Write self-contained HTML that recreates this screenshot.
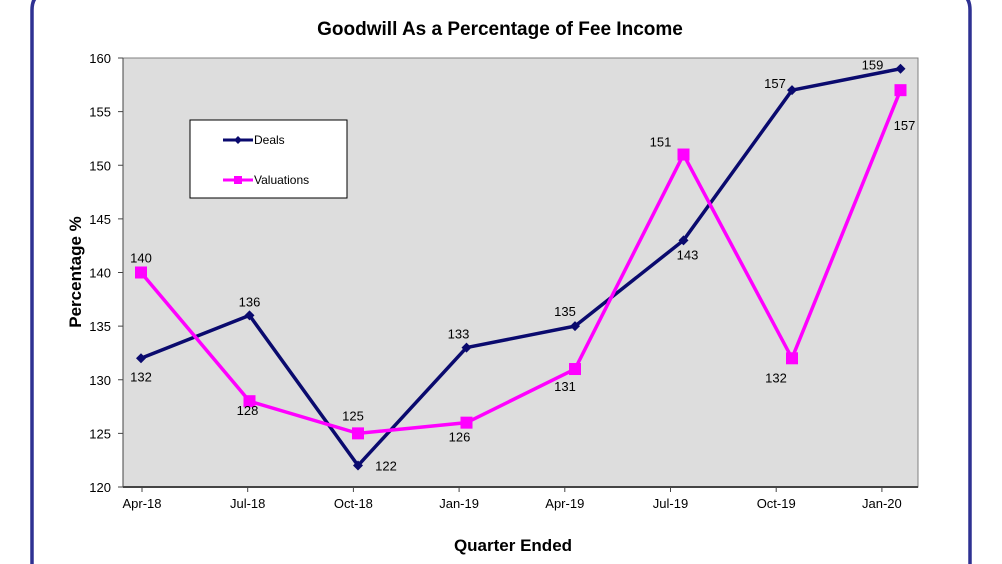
<!DOCTYPE html>
<html><head><meta charset="utf-8"><style>
html,body{margin:0;width:1002px;height:564px;background:#fff;overflow:hidden;font-family:"Liberation Sans",Arial,sans-serif}
</style></head><body>
<svg width="1002" height="564" style="position:absolute;left:0;top:0;overflow:hidden">
<path d="M32 564 L32 10 Q32 -8 50 -8 L952 -8 Q970 -8 970 10 L970 564" fill="none" stroke="#2e3192" stroke-width="3.5"/>
<text x="500" y="35" text-anchor="middle" font-size="19" font-weight="bold">Goodwill As a Percentage of Fee Income</text>
<rect x="123" y="58" width="795" height="429" fill="#dddddd" stroke="#808080" stroke-width="1"/>
<line x1="123" y1="487" x2="918" y2="487" stroke="#444" stroke-width="2"/>
<line x1="123" y1="58" x2="123" y2="487" stroke="#444" stroke-width="1"/>
<g id="yaxis"></g><g id="xaxis"></g><g id="series"></g>
<text x="81" y="272" transform="rotate(-90 81 272)" text-anchor="middle" font-size="17" font-weight="bold">Percentage %</text>
<text x="513" y="551" text-anchor="middle" font-size="17" font-weight="bold">Quarter Ended</text>
<g>
<rect x="190" y="120" width="157" height="78" fill="#fff" stroke="#000" stroke-width="1"/>
<g><line x1="223" y1="140" x2="253" y2="140" stroke="#0a0a6e" stroke-width="3"/><path d="M238 136 L242 140 L238 144 L234 140Z" fill="#0a0a6e"/><text x="254" y="144" font-size="12">Deals</text></g>
<g><line x1="223" y1="180" x2="253" y2="180" stroke="#ff00ff" stroke-width="3"/><rect x="234" y="176" width="8" height="8" fill="#ff00ff"/><text x="254" y="184" font-size="12">Valuations</text></g>
</g>
</svg>
<script>
const categories=["Apr-18","Jul-18","Oct-18","Jan-19","Apr-19","Jul-19","Oct-19","Jan-20"];
const deals=[132,136,122,133,135,143,157,159];
const valuations=[140,128,125,126,131,151,132,157];
const yTicks=[120,125,130,135,140,145,150,155,160];
const dealsLabelOff=[[0,23],[0,-9],[28,5],[-8,-9],[-10,-10],[4,19],[-17,-2],[-28,1]];
const valLabelOff=[[0,-10],[-2,14],[-5,-13],[-7,19],[-10,22],[-23,-8],[-16,24],[4,40]];
const NS="http://www.w3.org/2000/svg";
const xTick=i=>142+i*105.7;
const x=i=>141+i*108.5;
const y=v=>487-(v-120)*(429/40);
function mk(t,a,p){const e=document.createElementNS(NS,t);for(const k in a)e.setAttribute(k,a[k]);p.appendChild(e);return e;}
const ya=document.getElementById('yaxis'),xa=document.getElementById('xaxis'),sg=document.getElementById('series');
yTicks.forEach(v=>{
 const t=mk('text',{x:111,y:y(v)+5,'text-anchor':'end','font-size':13},ya);t.textContent=v;
 
 
 mk('line',{x1:118,x2:123,y1:y(v),y2:y(v),stroke:'#444'},ya);
});
categories.forEach((c,i)=>{
 const t=mk('text',{x:xTick(i),y:508,'text-anchor':'middle','font-size':13},xa);t.textContent=c;
 
 
 mk('line',{x1:xTick(i),x2:xTick(i),y1:487,y2:492,stroke:'#444'},xa);
});
function series(vals,color,marker,name,off){
 const pts=vals.map((v,i)=>x(i)+','+y(v)).join(' ');
 const pl=mk('polyline',{points:pts,fill:'none',stroke:color,'stroke-width':3.5},sg);
 
 
 vals.forEach((v,i)=>{
  const cx=x(i),cy=y(v);let m;
  if(marker==='sq')m=mk('rect',{x:cx-6,y:cy-6,width:12,height:12,fill:color},sg);
  else m=mk('path',{d:`M${cx} ${cy-5}L${cx+5} ${cy}L${cx} ${cy+5}L${cx-5} ${cy}Z`,fill:color},sg);
  
  
  const t=mk('text',{x:cx+off[i][0],y:cy+off[i][1],'text-anchor':'middle','font-size':13},sg);
  t.textContent=v;
  
  
 });
}
series(deals,'#0a0a6e','dia','deals',dealsLabelOff);
series(valuations,'#ff00ff','sq','valuations',valLabelOff);
</script>
</body></html>
